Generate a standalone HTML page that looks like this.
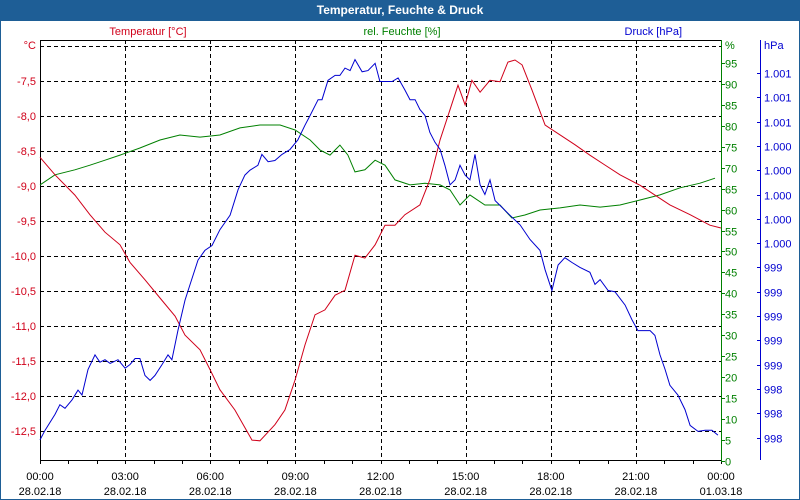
<!DOCTYPE html>
<html><head><meta charset="utf-8">
<style>
html,body{margin:0;padding:0;background:#fff;}
#wrap{position:relative;width:800px;height:500px;overflow:hidden;font-family:"Liberation Sans",sans-serif;}
</style></head>
<body>
<div id="wrap">
<svg id="chart" width="800" height="500" xmlns="http://www.w3.org/2000/svg"></svg>
</div>
<script>
// ---- data ----
const xTickLabels = ["00:00","03:00","06:00","09:00","12:00","15:00","18:00","21:00","00:00"];
const xDateLabels = ["28.02.18","28.02.18","28.02.18","28.02.18","28.02.18","28.02.18","28.02.18","28.02.18","01.03.18"];
const tempTicks = [-7.5,-8.0,-8.5,-9.0,-9.5,-10.0,-10.5,-11.0,-11.5,-12.0,-12.5];
const humTicks = [95,90,85,80,75,70,65,60,55,50,45,40,35,30,25,20,15,10,5,0];
const pressTickLabels = ["1.001","1.001","1.001","1.000","1.000","1.000","1.000","1.000","999","999","999","999","999","998","998","998"];
const pressTickValues = [1001.2,1001.0,1000.8,1000.6,1000.4,1000.2,1000.0,999.8,999.6,999.4,999.2,999.0,998.8,998.6,998.4,998.2];

const tempHours = [0,0.53,1.23,1.76,2.29,2.82,3.17,3.70,4.23,4.76,5.11,5.64,6.0,6.34,6.87,7.47,7.75,8.28,8.63,8.99,9.34,9.69,10.04,10.40,10.75,11.10,11.45,11.81,12.16,12.51,12.86,13.39,13.74,14.10,14.45,14.73,14.98,15.22,15.51,15.86,16.21,16.49,16.74,16.99,17.34,17.80,18.33,18.85,19.38,19.91,20.44,21.15,21.67,22.20,22.91,23.61,24.0];
const tempValues = [-8.59,-8.84,-9.13,-9.41,-9.66,-9.84,-10.09,-10.34,-10.60,-10.86,-11.13,-11.34,-11.63,-11.91,-12.20,-12.63,-12.64,-12.41,-12.20,-11.77,-11.27,-10.84,-10.77,-10.56,-10.49,-9.99,-10.03,-9.84,-9.56,-9.56,-9.41,-9.27,-8.91,-8.34,-7.91,-7.56,-7.84,-7.49,-7.66,-7.49,-7.51,-7.23,-7.20,-7.27,-7.63,-8.13,-8.27,-8.41,-8.56,-8.70,-8.84,-8.99,-9.13,-9.27,-9.41,-9.56,-9.60];

const humHours = [0,0.53,1.23,1.76,2.29,2.82,3.52,4.23,4.93,5.64,6.34,7.05,7.75,8.46,8.99,9.52,9.87,10.22,10.57,10.85,11.10,11.45,11.81,12.16,12.51,13.04,13.57,14.10,14.45,14.80,15.15,15.68,16.21,16.63,17.09,17.62,18.33,19.03,19.74,20.44,21.15,21.85,22.56,23.26,23.79];
const humValues = [65.9,68.3,69.5,70.6,71.8,73.0,74.7,76.6,77.8,77.3,77.8,79.5,80.2,80.2,79.0,76.6,74.2,73.0,75.4,73.0,69.0,69.5,71.8,70.6,67.1,65.9,66.3,65.9,64.7,61.1,63.5,61.1,61.1,58.0,58.7,59.9,60.4,61.1,60.6,61.1,62.3,63.5,65.2,66.3,67.5];

const pressHours = [0,0.18,0.53,0.70,0.88,1.13,1.34,1.48,1.69,1.94,2.11,2.29,2.47,2.75,3.0,3.17,3.35,3.52,3.70,3.88,4.05,4.30,4.51,4.65,4.86,5.11,5.29,5.57,5.81,6.06,6.34,6.70,6.98,7.22,7.40,7.68,7.82,8.04,8.28,8.53,8.81,9.09,9.34,9.52,9.80,9.94,10.15,10.40,10.57,10.75,10.93,11.10,11.35,11.56,11.81,11.98,12.16,12.41,12.62,12.86,13.04,13.22,13.39,13.57,13.74,13.92,14.10,14.27,14.45,14.63,14.80,14.98,15.15,15.33,15.51,15.68,15.86,16.04,16.21,16.56,16.92,17.27,17.62,17.80,18.04,18.26,18.50,18.75,19.03,19.38,19.56,19.74,20.02,20.26,20.62,20.86,21.07,21.50,21.67,21.85,22.03,22.20,22.48,22.73,22.91,23.19,23.44,23.68,23.89];
const pressValues = [998.18,998.26,998.39,998.47,998.44,998.51,998.59,998.55,998.76,998.88,998.82,998.84,998.81,998.84,998.77,998.80,998.85,998.85,998.71,998.67,998.71,998.80,998.88,998.84,999.08,999.33,999.46,999.66,999.74,999.78,999.91,1000.03,1000.24,1000.36,1000.40,1000.44,1000.53,1000.47,1000.48,1000.53,1000.57,1000.65,1000.77,1000.85,1000.98,1000.98,1001.14,1001.18,1001.18,1001.24,1001.22,1001.31,1001.21,1001.22,1001.28,1001.13,1001.13,1001.13,1001.16,1001.06,1000.98,1000.98,1000.90,1000.85,1000.71,1000.63,1000.57,1000.44,1000.28,1000.32,1000.44,1000.36,1000.32,1000.53,1000.28,1000.20,1000.32,1000.15,1000.11,1000.03,999.95,999.83,999.74,999.58,999.41,999.62,999.68,999.64,999.60,999.56,999.46,999.50,999.41,999.40,999.29,999.17,999.08,999.08,999.04,998.88,998.76,998.63,998.55,998.43,998.30,998.25,998.26,998.26,998.22];

// ---- layout / scales ----
const L=40, R=721, T=40, B=460;
const xS = h => L + (R-L)*h/24;
const yT = v => 81 + (-7.5 - v)*70;
const yH = v => 461 - v*4.19;
const yP = v => 73 + (1001.2 - v)*121.5;
const RED="#d0001a", GREEN="#008000", BLUE="#0000d0";

const svg=document.getElementById('chart');
const NS="http://www.w3.org/2000/svg";
function mk(tag,attrs,parent){const e=document.createElementNS(NS,tag);for(const k in attrs)e.setAttribute(k,attrs[k]);(parent||svg).appendChild(e);return e;}
function txt(s,x,y,fill,anchor,size,weight,parent){const t=mk('text',{x:x,y:y,fill:fill,'text-anchor':anchor||'start','font-size':size||11,'font-family':'"Liberation Sans",sans-serif','font-weight':weight||'normal'},parent);t.textContent=s;return t;}

// window frame & title
let e=mk('rect',{x:0.5,y:0.5,width:799,height:499,fill:'#fff',stroke:'#1e5e96'});

e=mk('rect',{x:0,y:0,width:800,height:21,fill:'#1e5e96'});

e=txt('Temperatur, Feuchte & Druck',400,14,'#fff','middle',12,'bold');


// grid
const grid=mk('g',{stroke:'#000','stroke-dasharray':'4,3','stroke-width':1});

for(let i=1;i<xTickLabels.length-1;i++){const x=Math.round(xS(i*3))+0.5;mk('line',{x1:x,y1:T,x2:x,y2:B},grid);}
mk('line',{x1:L,y1:Math.round(yT(-7.0))+0.5,x2:R,y2:Math.round(yT(-7.0))+0.5},grid);
tempTicks.forEach(v=>{const y=Math.round(yT(v))+0.5;mk('line',{x1:L,y1:y,x2:R,y2:y},grid);});

// axes
e=mk('path',{d:`M${L+0.5},${B} L${L+0.5},${T+0.5} L${R},${T+0.5}`,fill:'none',stroke:'#000'});

e=mk('line',{x1:L,y1:B+0.5,x2:R,y2:B+0.5,stroke:'#000'});

for(let h=0;h<=24;h++){const x=Math.round(xS(h))+0.5;mk('line',{x1:x,y1:B,x2:x,y2:B+4,stroke:'#000'});}
const xl=mk('g',{});
xTickLabels.forEach((s,i)=>{const x=xS(i*3);txt(s,x,480,'#000','middle',11,'normal',xl);txt(xDateLabels[i],x,495,'#000','middle',11,'normal',xl);});

// left temp axis labels
const tl=mk('g',{});
txt('°C',36,49,RED,'end',11,'normal',tl);
tempTicks.forEach(v=>txt(v.toFixed(1).replace('.',','),36,yT(v)+4,RED,'end',11,'normal',tl));

// green humidity axis
e=mk('line',{x1:R+0.5,y1:T,x2:R+0.5,y2:B+1,stroke:GREEN});

const hl=mk('g',{});
txt('%',725,49,GREEN,'start',11,'normal',hl);
humTicks.forEach(v=>{const y=Math.round(yH(v))+0.5;mk('line',{x1:R,y1:y,x2:R+4,y2:y,stroke:GREEN},hl);txt(String(v),725,y+4,GREEN,'start',11,'normal',hl);});

// blue pressure axis
e=mk('line',{x1:760.5,y1:T,x2:760.5,y2:B,stroke:BLUE});

const pl=mk('g',{});
txt('hPa',764,49,BLUE,'start',11,'normal',pl);
pressTickValues.forEach((v,i)=>{const y=Math.round(yP(v))+0.5;mk('line',{x1:757,y1:y,x2:761,y2:y,stroke:BLUE},pl);txt(pressTickLabels[i],764,y+4,BLUE,'start',11,'normal',pl);});

// series titles
e=txt('Temperatur [°C]',148,35,RED,'middle',11);
e=txt('rel. Feuchte [%]',402,35,GREEN,'middle',11);
e=txt('Druck [hPa]',682,35,BLUE,'end',11);

// series lines
function line(hours,vals,ys,color,name){
  const d=hours.map((h,i)=>(i?'L':'M')+xS(h).toFixed(1)+','+ys(vals[i]).toFixed(1)).join(' ');
  const p=mk('path',{d:d,fill:'none',stroke:color,'stroke-width':1});
  
  
}
line(humHours,humValues,yH,GREEN,'humidity-line');
line(tempHours,tempValues,yT,RED,'temperature-line');
line(pressHours,pressValues,yP,BLUE,'pressure-line');
</script>
</body></html>
